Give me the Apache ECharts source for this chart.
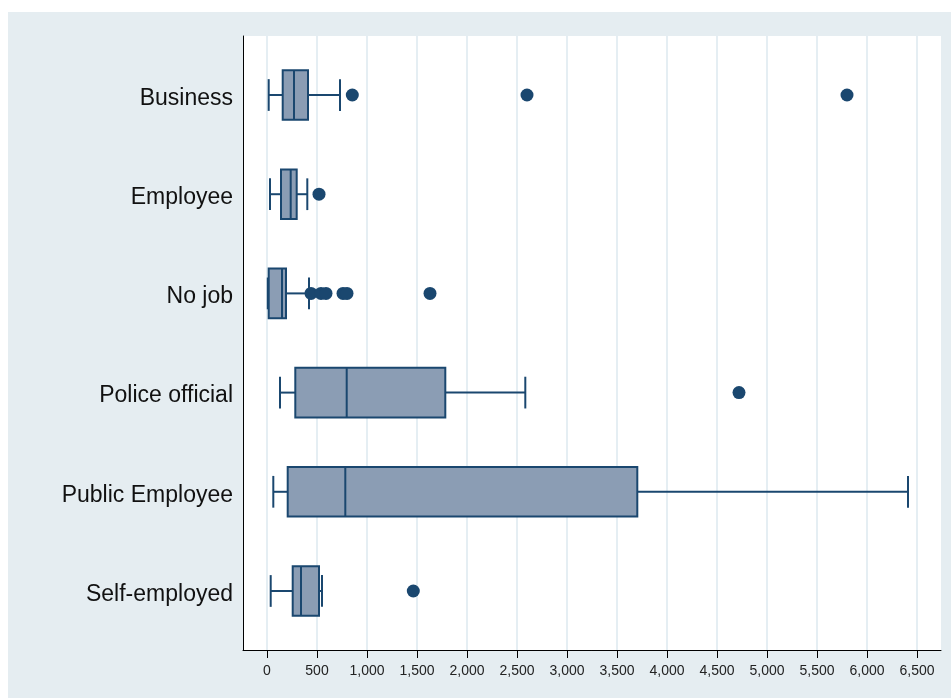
<!DOCTYPE html>
<html>
<head>
<meta charset="utf-8">
<script src="https://cdn.jsdelivr.net/npm/echarts@6/dist/echarts.min.js"></script>
<style>
  html, body { margin: 0; padding: 0; background: #ffffff; }
  #panel { position: absolute; left: 8px; top: 12px; width: 943px; height: 686px; background: #e5edf1; }
  #main { position: absolute; left: 0; top: 0; width: 951px; height: 699px; }
</style>
</head>
<body>
<div id="panel"></div>
<div id="main"></div>
<script>
// categories, top to bottom
const categories = ['Business', 'Employee', 'No job', 'Police official', 'Public Employee', 'Self-employed'];
// box statistics
const lowWhisker = [17, 30, 8, 130, 63, 37];
const q1 = [157, 140, 17, 283, 207, 257];
const median = [270, 237, 150, 797, 783, 340];
const q3 = [410, 297, 190, 1783, 3703, 520];
const highWhisker = [730, 403, 420, 2583, 6410, 550];
// outliers: [value, category index]
const outliers = [
  [853, 0], [2600, 0], [5800, 0],
  [520, 1],
  [440, 2], [540, 2], [590, 2], [760, 2], [800, 2], [1630, 2],
  [4720, 3],
  [1463, 5]
];
const xTicks = [0, 500, 1000, 1500, 2000, 2500, 3000, 3500, 4000, 4500, 5000, 5500, 6000, 6500];

const navy = '#1a476f';
const boxFill = '#8b9db4';

const boxData = categories.map((c, i) => [i, lowWhisker[i], q1[i], median[i], q3[i], highWhisker[i]]);

const chart = echarts.init(document.getElementById('main'));

const option = {
  backgroundColor: 'transparent',
  animation: false,
  grid: {
    left: 243, right: 10, top: 36, bottom: 49,
    show: true, backgroundColor: '#ffffff', borderWidth: 0
  },
  xAxis: {
    type: 'value',
    min: -240,
    max: 6740,
    axisLine: { show: true, onZero: false, lineStyle: { color: '#000', width: 1 } },
    axisTick: { show: true, customValues: xTicks, length: 8, lineStyle: { color: '#000', width: 1 } },
    axisLabel: {
      customValues: xTicks,
      margin: 14,
      color: '#222',
      fontSize: 14,
      fontFamily: 'Liberation Sans',
      formatter: v => v.toLocaleString('en-US')
    },
    splitLine: { show: true, lineStyle: { color: '#dde8ef', width: 1.5 } }
  },
  yAxis: {
    type: 'value',
    inverse: true,
    min: -0.595,
    max: 5.595,
    axisLine: { show: true, onZero: false, lineStyle: { color: '#000', width: 1 } },
    axisTick: { show: false },
    splitLine: { show: false },
    axisLabel: {
      customValues: [0, 1, 2, 3, 4, 5],
      margin: 10,
      formatter: v => '{c|' + categories[v] + '}',
      rich: {
        c: {
          color: '#111',
          fontSize: 23,
          fontFamily: 'Liberation Sans',
          padding: [7, 0, 0, 0]
        }
      }
    }
  },
  series: [
    {
      type: 'custom',
      data: boxData,
      encode: { x: [1, 2, 3, 4, 5], y: 0 },
      renderItem: function (params, api) {
        const i = api.value(0);
        const lo = api.coord([api.value(1), i]);
        const a = api.coord([api.value(2), i]);
        const m = api.coord([api.value(3), i]);
        const b = api.coord([api.value(4), i]);
        const hi = api.coord([api.value(5), i]);
        const unit = api.size([0, 1])[1];
        const bh = unit * 0.25;
        const ch = unit * 0.16;
        const cy = m[1];
        const ls = { stroke: navy, lineWidth: 2, fill: null };
        return {
          type: 'group',
          children: [
            { type: 'line', shape: { x1: lo[0], y1: cy, x2: a[0], y2: cy }, style: ls },
            { type: 'line', shape: { x1: b[0], y1: cy, x2: hi[0], y2: cy }, style: ls },
            { type: 'line', shape: { x1: lo[0], y1: cy - ch, x2: lo[0], y2: cy + ch }, style: ls },
            { type: 'line', shape: { x1: hi[0], y1: cy - ch, x2: hi[0], y2: cy + ch }, style: ls },
            {
              type: 'rect',
              shape: { x: a[0], y: cy - bh, width: b[0] - a[0], height: bh * 2 },
              style: { fill: boxFill, stroke: navy, lineWidth: 2 }
            },
            { type: 'line', shape: { x1: m[0], y1: cy - bh, x2: m[0], y2: cy + bh }, style: ls }
          ]
        };
      }
    },
    {
      type: 'scatter',
      data: outliers,
      symbol: 'circle',
      symbolSize: 13,
      itemStyle: { color: navy, opacity: 1 }
    }
  ]
};

chart.setOption(option);
</script>
</body>
</html>
